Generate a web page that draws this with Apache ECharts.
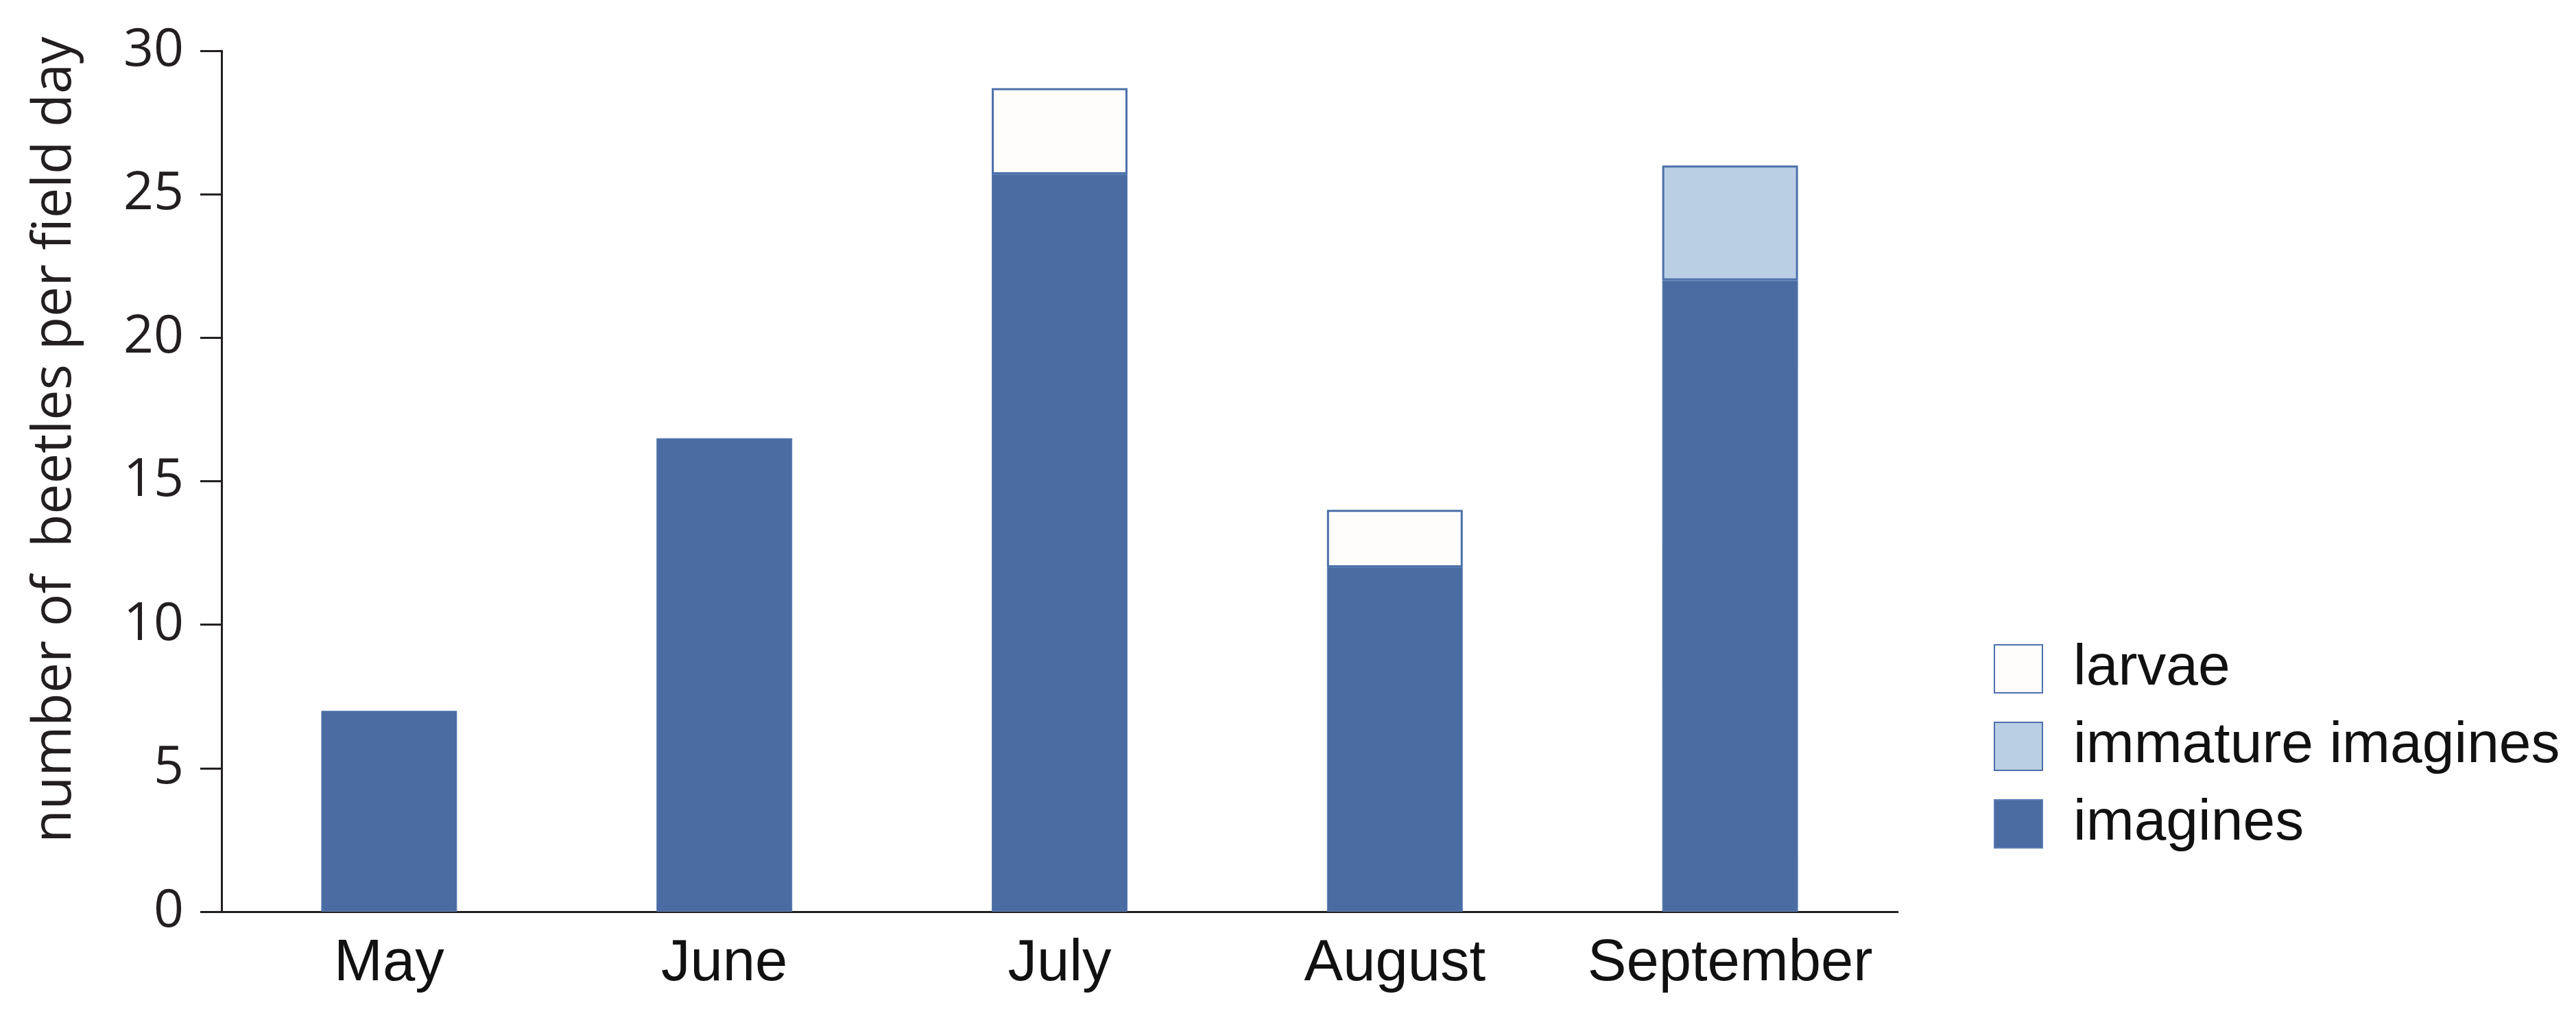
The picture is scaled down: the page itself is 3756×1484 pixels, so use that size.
<!DOCTYPE html>
<html>
<head>
<meta charset="utf-8">
<script src="https://cdn.jsdelivr.net/npm/echarts@6/dist/echarts.min.js"></script>
<style>
  html, body { margin: 0; padding: 0; background: #ffffff; }
  #chart { width: 3756px; height: 1484px; }
</style>
</head>
<body>
<div id="chart"></div>
<script>
const months = ['May', 'June', 'July', 'August', 'September'];
const imagines = [7, 16.5, 25.7, 12, 22];
const immatureImagines = [null, null, null, null, 4];
const larvae = [null, null, 3, 2, null];
const yTicks = { min: 0, max: 30, interval: 5 };
const yTitle = 'number of  beetles per field day';
const legendOrder = ['larvae', 'immature imagines', 'imagines'];

const chart = echarts.init(document.getElementById('chart'), null, { renderer: 'canvas' });

const axisColor = '#231f20';
const darkBlue = '#4a6ca2';
const edgeBlue = '#4d70aa';

chart.setOption({
  backgroundColor: '#ffffff',
  animation: false,
  grid: { left: 323, right: 989, top: 74, bottom: 155, containLabel: false },
  legend: {
    data: legendOrder,
    orient: 'vertical',
    left: 2902,
    top: 928,
    itemWidth: 70,
    itemHeight: 70,
    itemGap: 29,
    icon: 'rect',
    textStyle: {
      fontFamily: '"Liberation Sans", Arial, sans-serif',
      fontSize: 84,
      color: '#111111',
      padding: [0, 0, 0, 40]
    }
  },
  xAxis: {
    type: 'category',
    data: months,
    axisLine: { show: true, lineStyle: { color: axisColor, width: 3 } },
    axisTick: { show: false },
    axisLabel: {
      interval: 0,
      margin: 34,
      fontFamily: '"Liberation Sans", Arial, sans-serif',
      fontSize: 85,
      color: '#111111'
    }
  },
  yAxis: {
    type: 'value',
    min: yTicks.min,
    max: yTicks.max,
    interval: yTicks.interval,
    splitLine: { show: false },
    axisLine: { show: true, lineStyle: { color: axisColor, width: 3 } },
    axisTick: { show: true, inside: false, length: 31, lineStyle: { color: axisColor, width: 3 } },
    axisLabel: {
      margin: 55,
      fontFamily: '"Open Sans", sans-serif',
      fontSize: 77,
      color: '#231f20'
    }
  },
  graphic: [{
    type: 'text',
    x: 80,
    y: 641,
    rotation: Math.PI / 2,
    style: {
      text: yTitle,
      font: '79px "Open Sans", sans-serif',
      fill: '#231f20',
      align: 'center',
      verticalAlign: 'middle'
    }
  }],
  series: [
    {
      name: 'imagines',
      type: 'bar',
      stack: 'total',
      barWidth: '40.5%',
      data: imagines,
      itemStyle: { color: darkBlue, borderColor: '#5a7db5', borderWidth: 1 }
    },
    {
      name: 'immature imagines',
      type: 'bar',
      stack: 'total',
      data: immatureImagines,
      itemStyle: { color: '#bacfe3', borderColor: edgeBlue, borderWidth: 3 }
    },
    {
      name: 'larvae',
      type: 'bar',
      stack: 'total',
      data: larvae,
      itemStyle: { color: '#fefdfc', borderColor: edgeBlue, borderWidth: 3 }
    }
  ]
});
</script>
</body>
</html>
